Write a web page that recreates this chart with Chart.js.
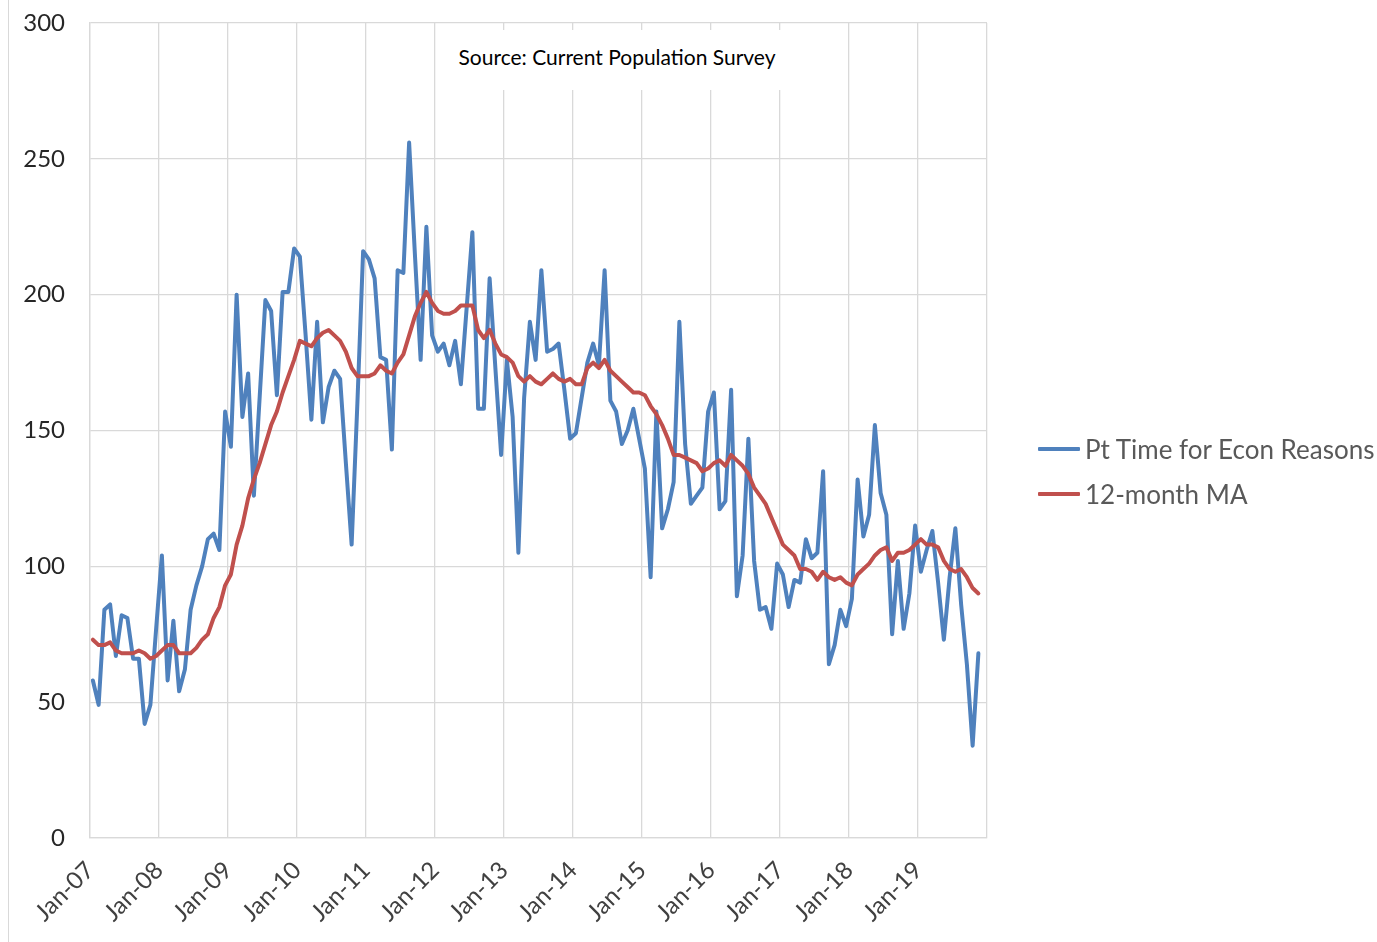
<!DOCTYPE html>
<html>
<head>
<meta charset="utf-8">
<script src="https://cdn.jsdelivr.net/npm/chart.js@4.4.1/dist/chart.umd.min.js"></script>
<style>
  html, body { margin: 0; padding: 0; background: #ffffff; }
  #wrap { position: relative; width: 1377px; height: 942px; overflow: hidden; background: #ffffff; }
  #c { position: absolute; left: 0; top: 0; }
  #frame { position: absolute; left: 8px; top: 0; width: 1px; height: 942px; background: #d9d9d9; }
  #note { position: absolute; left: 442px; top: 30px; width: 350px; height: 60px; background: #ffffff;
          font-family: Lato, 'Open Sans', sans-serif; font-size: 21px; color: #000000;
          text-align: center; line-height: 54px; white-space: nowrap; }
  #legend { position: absolute; left: 1038px; top: 426px; font-family: Lato, 'Open Sans', sans-serif;
            font-size: 26px; color: #595959; }
  .item { display: flex; align-items: center; height: 45px; white-space: nowrap; }
  .swatch { width: 42px; height: 4px; margin-right: 5px; border-radius: 1px; }
</style>
</head>
<body>
<div id="wrap">
  <canvas id="c" width="1377" height="942" style="width:1377px;height:942px;"></canvas>
  <div id="frame"></div>
  <div id="note">Source: Current Population Survey</div>
  <div id="legend"></div>
</div>
<script>
// ---- tick labels (one per January) ----
const yearLabels = ['Jan-07','Jan-08','Jan-09','Jan-10','Jan-11','Jan-12','Jan-13',
                    'Jan-14','Jan-15','Jan-16','Jan-17','Jan-18','Jan-19'];

// ---- categories: monthly, Jan-07 .. Nov-19 ----
const monthNames = ['Jan','Feb','Mar','Apr','May','Jun','Jul','Aug','Sep','Oct','Nov','Dec'];
const months = [];
for (let y = 7; y <= 19; y++) {
  for (let m = 0; m < 12; m++) {
    if (y === 19 && m > 10) break;
    months.push(monthNames[m] + '-' + String(y).padStart(2, '0'));
  }
}

// ---- series: Pt Time for Econ Reasons ----
const ptTimeEcon = [
  58, 49, 84, 86, 67, 82, 81, 66, 66, 42, 49, 77,          // 2007
  104, 58, 80, 54, 62, 84, 93, 100, 110, 112, 106, 157,    // 2008
  144, 200, 155, 171, 126, 162, 198, 194, 163, 201, 201, 217, // 2009
  214, 185, 154, 190, 153, 166, 172, 169, 138, 108, 160, 216, // 2010
  213, 206, 177, 176, 143, 209, 208, 256, 215, 176, 225, 185, // 2011
  179, 182, 174, 183, 167, 195, 223, 158, 158, 206, 173, 141, // 2012
  176, 155, 105, 162, 190, 176, 209, 179, 180, 182, 165, 147, // 2013
  149, 162, 175, 182, 174, 209, 161, 157, 145, 150, 158, 147, // 2014
  136, 96, 157, 114, 121, 131, 190, 145, 123, 126, 129, 157,  // 2015
  164, 121, 124, 165, 89, 104, 147, 102, 84, 85, 77, 101,     // 2016
  97, 85, 95, 94, 110, 103, 105, 135, 64, 71, 84, 78,         // 2017
  88, 132, 111, 119, 152, 127, 119, 75, 102, 77, 90, 115,     // 2018
  98, 106, 113, 94, 73, 96, 114, 86, 64, 34, 68               // 2019
];

// ---- series: 12-month moving average ----
const movingAvg12 = [
  73, 71, 71, 72, 69, 68, 68, 68, 69, 68, 66, 67,             // 2007
  69, 71, 71, 68, 68, 68, 70, 73, 75, 81, 85, 93,             // 2008
  97, 108, 115, 125, 132, 138, 145, 152, 157, 164, 170, 176,  // 2009
  183, 182, 181, 184, 186, 187, 185, 183, 179, 173, 170, 170, // 2010
  170, 171, 174, 172, 171, 175, 178, 185, 192, 197, 201, 197, // 2011
  194, 193, 193, 194, 196, 196, 196, 187, 184, 187, 182, 178, // 2012
  177, 175, 170, 168, 170, 168, 167, 169, 171, 169, 168, 169, // 2013
  167, 167, 173, 175, 173, 176, 172, 170, 168, 166, 164, 164, // 2014
  163, 159, 156, 152, 147, 141, 141, 140, 139, 138, 135, 136, // 2015
  138, 139, 137, 141, 139, 137, 134, 129, 126, 123, 118, 113, // 2016
  108, 106, 104, 99, 99, 98, 95, 98, 96, 95, 96, 94,          // 2017
  93, 97, 99, 101, 104, 106, 107, 102, 105, 105, 106, 108,    // 2018
  110, 108, 108, 107, 102, 99, 98, 99, 96, 92, 90             // 2019
];

const seriesNames = ['Pt Time for Econ Reasons', '12-month MA'];
const seriesColors = ['#4F81BD', '#C0504D'];

function toPoints(values) {
  return values.map((v, i) => ({ x: i, y: v }));
}

function build() {
  const ctx = document.getElementById('c').getContext('2d');
  const gridColor = '#d9d9d9';
  const chart = new Chart(ctx, {
    type: 'line',
    data: {
      labels: months,
      datasets: [
        { label: seriesNames[0], data: toPoints(ptTimeEcon), borderColor: seriesColors[0],
          backgroundColor: seriesColors[0], borderWidth: 4, pointRadius: 0, tension: 0,
          fill: false, order: 2, borderJoinStyle: 'round', borderCapStyle: 'round' },
        { label: seriesNames[1], data: toPoints(movingAvg12), borderColor: seriesColors[1],
          backgroundColor: seriesColors[1], borderWidth: 4, pointRadius: 0, tension: 0,
          fill: false, order: 1, borderJoinStyle: 'round', borderCapStyle: 'round' }
      ]
    },
    options: {
      responsive: false,
      animation: false,
      devicePixelRatio: 1,
      layout: { padding: { top: 23, right: 390, bottom: 0, left: 0 } },
      plugins: { legend: { display: false }, tooltip: { enabled: false }, title: { display: false } },
      scales: {
        x: {
          type: 'linear',
          min: -0.5,
          max: 155.5,
          afterBuildTicks: (s) => {
            const t = yearLabels.map((_, k) => ({ value: 12 * k - 0.5 }));
            t.push({ value: 155.5 });
            s.ticks = t;
          },
          afterFit: (s) => { s.height = 104; },
          grid: { color: gridColor, lineWidth: 1.3, drawTicks: false },
          border: { color: gridColor, width: 1.3 },
          ticks: {
            autoSkip: false, maxRotation: 45, minRotation: 45, padding: 18,
            color: '#404040', font: { family: 'Lato', size: 24 },
            callback: (value, index) => (index < yearLabels.length ? yearLabels[index] : '')
          }
        },
        y: {
          min: 0,
          max: 300,
          afterFit: (s) => { s.width = 90; s.paddingTop = 0; s.paddingBottom = 0; },
          grid: { color: gridColor, lineWidth: 1.3, drawTicks: false },
          border: { color: gridColor, width: 1.3 },
          ticks: { stepSize: 50, padding: 25, color: '#262626', font: { family: 'Lato', size: 24 } }
        }
      }
    }
  });

  // HTML legend generated from the chart's datasets
  const lg = document.getElementById('legend');
  chart.data.datasets.forEach((ds) => {
    const item = document.createElement('div');
    item.className = 'item';
    const sw = document.createElement('span');
    sw.className = 'swatch';
    sw.style.background = ds.borderColor;
    const tx = document.createElement('span');
    tx.textContent = ds.label;
    item.appendChild(sw);
    item.appendChild(tx);
    lg.appendChild(item);
  });
}

if (document.fonts && document.fonts.load) {
  Promise.all([document.fonts.load('24px Lato'), document.fonts.load('26px Lato')])
    .then(build, build);
} else {
  build();
}
</script>
</body>
</html>
